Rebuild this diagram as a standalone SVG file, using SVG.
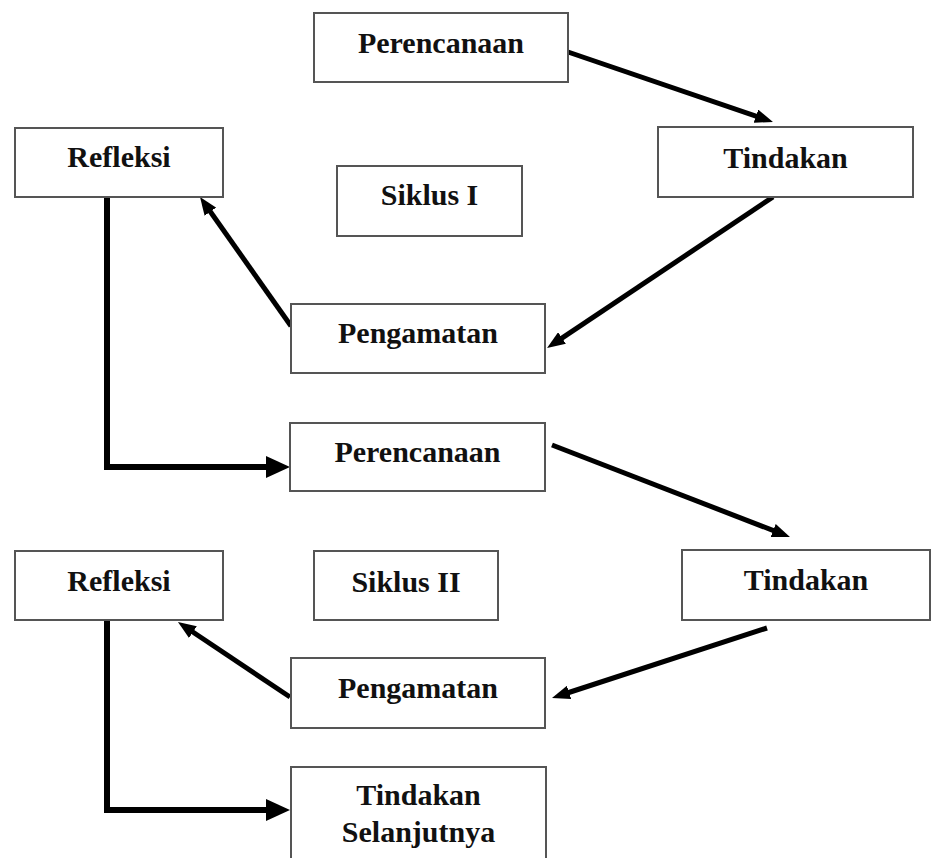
<svg xmlns="http://www.w3.org/2000/svg" width="932" height="858" viewBox="0 0 932 858">
<style>
.box{fill:#fff;stroke:#555;stroke-width:2}
.lbl{font-family:"Liberation Serif","Times New Roman",serif;font-weight:bold;font-size:30px;fill:#111;text-anchor:middle}
.ln{fill:none;stroke:#000;stroke-width:5}
.el{fill:none;stroke:#000;stroke-width:6}
</style>
<defs>
<marker id="ah" markerUnits="userSpaceOnUse" markerWidth="18" markerHeight="14" viewBox="0 0 18 14" refX="10" refY="7" orient="auto"><path d="M0,0 L18,7 L0,14 z" fill="#000"/></marker>
<marker id="ahb" markerUnits="userSpaceOnUse" markerWidth="24" markerHeight="22" viewBox="0 0 24 22" refX="14" refY="11" orient="auto"><path d="M0,0 L24,11 L0,22 z" fill="#000"/></marker>
</defs>
<rect width="932" height="858" fill="#fff"/>
<g id="connectors">
<line class="ln" x1="568" y1="52" x2="765.4" y2="119.4" marker-end="url(#ah)"/>
<line class="ln" x1="773" y1="197" x2="553.7" y2="343.6" marker-end="url(#ah)"/>
<line class="ln" x1="291" y1="326" x2="204.6" y2="203.5" marker-end="url(#ah)"/>
<path class="el" d="M107,197 V467 H280" marker-end="url(#ahb)"/>
<line class="ln" x1="552" y1="445" x2="782.5" y2="534.1" marker-end="url(#ah)"/>
<line class="ln" x1="767" y1="628" x2="559.6" y2="695.5" marker-end="url(#ah)"/>
<line class="ln" x1="290" y1="697" x2="184.6" y2="626.5" marker-end="url(#ah)"/>
<path class="el" d="M107,620 V810 H280" marker-end="url(#ahb)"/>
</g>
<g id="perencanaan1"><rect class="box" x="314" y="13" width="254" height="69"/><text class="lbl" x="441" y="53">Perencanaan</text></g>
<g id="tindakan1"><rect class="box" x="658" y="127" width="255" height="70"/><text class="lbl" x="785.5" y="168">Tindakan</text></g>
<g id="refleksi1"><rect class="box" x="15" y="128" width="208" height="69"/><text class="lbl" x="119" y="167">Refleksi</text></g>
<g id="siklus1"><rect class="box" x="337" y="166" width="185" height="70"/><text class="lbl" x="429.5" y="205">Siklus I</text></g>
<g id="pengamatan1"><rect class="box" x="291" y="304" width="254" height="69"/><text class="lbl" x="418" y="343">Pengamatan</text></g>
<g id="perencanaan2"><rect class="box" x="290" y="423" width="255" height="68"/><text class="lbl" x="417.5" y="462">Perencanaan</text></g>
<g id="refleksi2"><rect class="box" x="15" y="551" width="208" height="69"/><text class="lbl" x="119" y="591">Refleksi</text></g>
<g id="siklus2"><rect class="box" x="314" y="551" width="184" height="69"/><text class="lbl" x="406" y="592">Siklus II</text></g>
<g id="tindakan2"><rect class="box" x="682" y="550" width="248" height="70"/><text class="lbl" x="806" y="590">Tindakan</text></g>
<g id="pengamatan2"><rect class="box" x="291" y="658" width="254" height="70"/><text class="lbl" x="418" y="698">Pengamatan</text></g>
<g id="tindakan-selanjutnya"><rect class="box" x="291" y="767" width="255" height="92"/><text class="lbl" x="418.5" y="805">Tindakan</text><text class="lbl" x="418.5" y="842">Selanjutnya</text></g>
</svg>
